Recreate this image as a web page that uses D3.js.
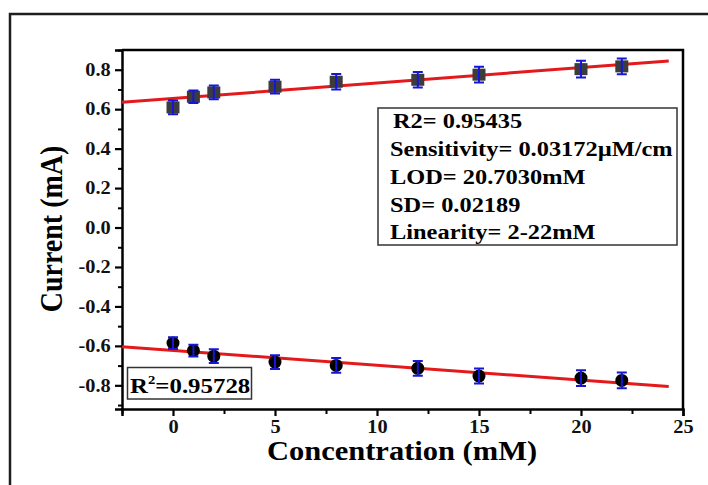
<!DOCTYPE html>
<html>
<head>
<meta charset="utf-8">
<script src="https://cdn.jsdelivr.net/npm/d3@7/dist/d3.min.js"></script>
<style>
  html, body { margin: 0; padding: 0; background: #fff; }
  svg { display: block; font-family: "Liberation Serif", "Times New Roman", serif; font-weight: bold; }
</style>
</head>
<body>
<svg id="chart" width="708" height="485"></svg>
<script>
// Concentrations (mM)
const concentrations = [0, 1, 2, 5, 8, 12, 15, 20, 22];
// Anodic (positive) current, mA, with error
const anodicCurrent = [0.609, 0.663, 0.685, 0.714, 0.739, 0.749, 0.775, 0.803, 0.817];
const anodicError   = [0.035, 0.032, 0.035, 0.035, 0.039, 0.039, 0.040, 0.042, 0.040];
// Cathodic (negative) current, mA, with error
const cathodicCurrent = [-0.586, -0.624, -0.652, -0.682, -0.699, -0.714, -0.753, -0.763, -0.775];
const cathodicError   = [0.030, 0.030, 0.035, 0.035, 0.037, 0.037, 0.038, 0.040, 0.040];
// Tick values
const xTicks = [0, 5, 10, 15, 20, 25];
const yTicks = [-0.8, -0.6, -0.4, -0.2, 0.0, 0.2, 0.4, 0.6, 0.8];
// Span of the fitted lines (mM)
const fitSpan = [-2.5, 24.3];
// Annotation text
const statsLines = ["R2= 0.95435", "Sensitivity= 0.03172\u00b5M/cm", "LOD= 20.7030mM", "SD= 0.02189", "Linearity= 2-22mM"];
const cathodicR2 = "0.95728";

const SX = 1.13; // horizontal stretch of the lettering
const svg = d3.select("#chart");
const plot = { left: 122, right: 683, top: 50, bottom: 409 };

const x = d3.scaleLinear().domain([-2.5, 25]).range([plot.left, plot.right]);
const y = d3.scaleLinear().domain([-0.92, 0.9]).range([plot.bottom, plot.top]);

// outer frame
svg.append("rect").attr("x", 10).attr("y", 14).attr("width", 740).attr("height", 520)
  .attr("fill", "none").attr("stroke", "#1e1e1e").attr("stroke-width", 2.5);

// plot frame (top / right)
svg.append("path")
  .attr("d", `M${plot.left},${plot.top}H${plot.right}V${plot.bottom}`)
  .attr("fill", "none").attr("stroke", "#000").attr("stroke-width", 2.5);

// minor ticks
const xMinor = d3.range(-2.5, 25, 5);
const yMinor = d3.range(-0.9, 0.91, 0.2).map(v => +v.toFixed(2));

const gx = svg.append("g").attr("transform", `translate(0,${plot.bottom})`);
gx.call(d3.axisBottom(x).tickValues(xMinor).tickSize(5).tickFormat(""));
gx.call(g => g.selectAll(".tick line").attr("stroke-width", 2));
const gxMaj = svg.append("g").attr("transform", `translate(0,${plot.bottom})`)
  .call(d3.axisBottom(x).tickValues(xTicks).tickSize(7).tickPadding(4).tickFormat(d3.format("d")));
gxMaj.selectAll(".tick line").attr("stroke-width", 2.2);
gxMaj.select(".domain").attr("stroke-width", 2.5);
gxMaj.selectAll("text").attr("font-size", 18).attr("font-weight", "bold")
  .attr("font-family", "Liberation Serif").attr("fill", "#111")
  .attr("transform", `scale(${SX},1)`);
gx.select(".domain").remove();

const gy = svg.append("g").attr("transform", `translate(${plot.left},0)`);
gy.call(d3.axisLeft(y).tickValues(yMinor).tickSize(4).tickFormat(""));
gy.selectAll(".tick line").attr("stroke-width", 2);
gy.select(".domain").remove();
const gyMaj = svg.append("g").attr("transform", `translate(${plot.left},0)`)
  .call(d3.axisLeft(y).tickValues(yTicks).tickSize(7).tickPadding(3).tickFormat(d => d.toFixed(1)));
gyMaj.selectAll(".tick line").attr("stroke-width", 2.2);
gyMaj.select(".domain").attr("stroke-width", 2.5);
gyMaj.selectAll("text").attr("font-size", 18).attr("font-weight", "bold")
  .attr("font-family", "Liberation Serif").attr("fill", "#111")
  .attr("transform", `scale(${SX},1)`);

// axis titles
svg.append("text").attr("font-size", 27).attr("fill", "#000").attr("text-anchor", "middle")
  .attr("transform", `translate(402,460) scale(${SX},1)`).text("Concentration (mM)");
svg.append("text").attr("font-size", 28).attr("fill", "#000").attr("text-anchor", "middle")
  .attr("transform", `translate(62,229) scale(${SX},1) rotate(-90)`).text("Current (mA)");

// least-squares fit
function fit(xs, ys) {
  const mx = d3.mean(xs), my = d3.mean(ys);
  const sxy = d3.sum(xs, (v, i) => (v - mx) * (ys[i] - my));
  const sxx = d3.sum(xs, v => (v - mx) ** 2);
  const b = sxy / sxx;
  return { slope: b, intercept: my - b * mx };
}
const line = d3.line().x(d => x(d[0])).y(d => y(d[1]));

function drawSeries(vals, errs, shape) {
  const data = concentrations.map((c, i) => ({ c, v: vals[i], e: errs[i] }));
  const f = fit(concentrations, vals);
  svg.append("path")
    .attr("d", line(fitSpan.map(c => [c, f.intercept + f.slope * c])))
    .attr("fill", "none").attr("stroke", "#e3191c").attr("stroke-width", 3);

  const g = svg.append("g");
  if (shape === "square") {
    g.selectAll("rect").data(data).join("rect")
      .attr("x", d => x(d.c) - 6.5).attr("y", d => y(d.v) - 6)
      .attr("width", 13).attr("height", 12).attr("fill", "#3c3c3c");
  } else {
    g.selectAll("circle").data(data).join("circle")
      .attr("cx", d => x(d.c)).attr("cy", d => y(d.v)).attr("r", 6.5).attr("fill", "#000");
  }
  const eb = svg.append("g").attr("stroke", "#1616d8").attr("stroke-width", 2).attr("fill", "none");
  eb.selectAll("path").data(data).join("path")
    .attr("d", d => {
      const cx = x(d.c), y1 = y(d.v + d.e), y2 = y(d.v - d.e);
      return `M${cx - 5},${y1}H${cx + 5}M${cx},${y1}V${y2}M${cx - 5},${y2}H${cx + 5}`;
    });
}
drawSeries(anodicCurrent, anodicError, "square");
drawSeries(cathodicCurrent, cathodicError, "circle");

// statistics box
svg.append("rect").attr("x", 378).attr("y", 108).attr("width", 299).attr("height", 137)
  .attr("fill", "#fff").attr("stroke", "#333").attr("stroke-width", 1.5);
const baselines = [128, 156, 184, 212, 239];
statsLines.forEach((t, i) => {
  svg.append("text").attr("font-size", 21.6).attr("fill", "#000")
    .attr("transform", `translate(${i === 0 ? 393 : 390},${baselines[i]}) scale(${SX},1)`)
    .text(t);
});

// R² box for the cathodic branch
svg.append("rect").attr("x", 127.5).attr("y", 367.5).attr("width", 124).attr("height", 31.5)
  .attr("fill", "#fff").attr("stroke", "#333").attr("stroke-width", 1.5);
const r2 = svg.append("text").attr("font-size", 22).attr("fill", "#000")
  .attr("transform", `translate(130,393) scale(${SX},1)`);
r2.append("tspan").text("R");
r2.append("tspan").attr("font-size", 13).attr("dy", -9).text("2");
r2.append("tspan").attr("dy", 9).text("=" + cathodicR2);
</script>
</body>
</html>
